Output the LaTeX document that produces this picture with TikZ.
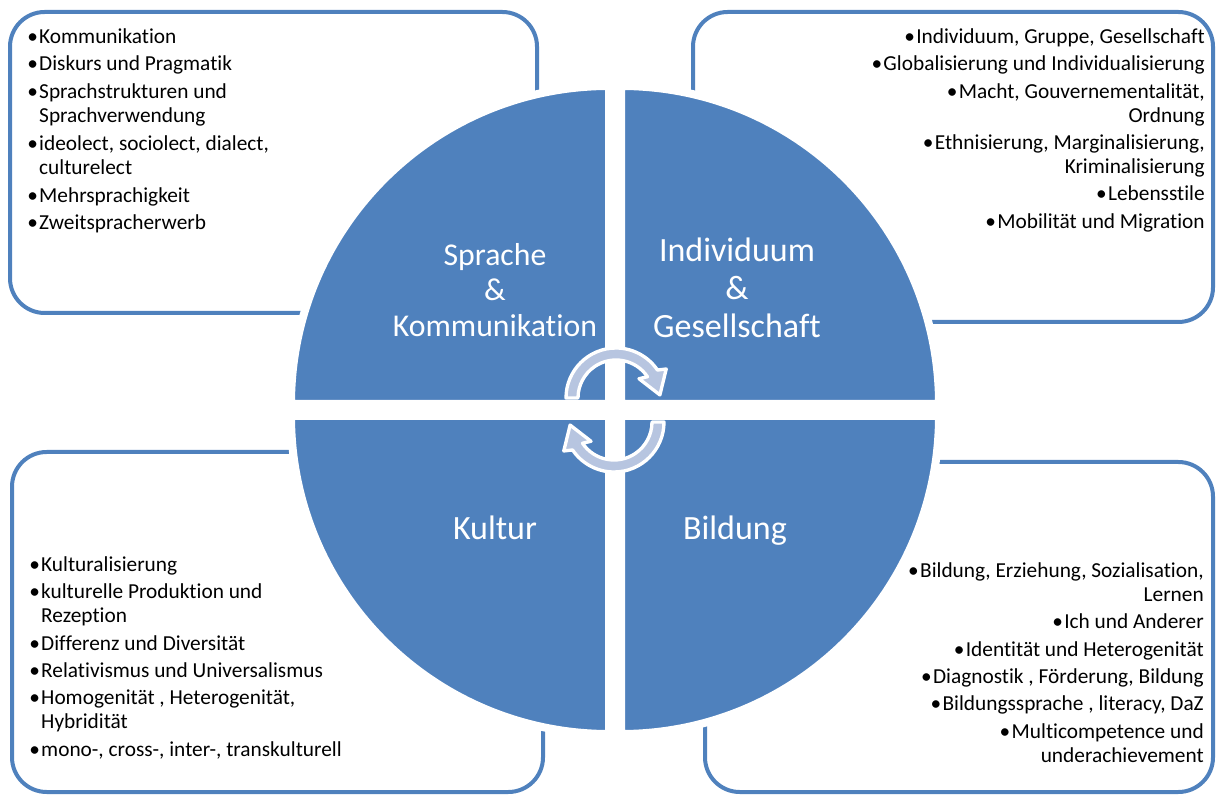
\documentclass[tikz,border=0pt]{standalone}
\usepackage{fontspec}
\setmainfont{Carlito}[Ligatures=NoCommon]
\definecolor{quadblue}{HTML}{4F81BD}
\definecolor{arrowfill}{HTML}{B7C5E0}
\newcommand{\bul}{\textbullet\kern1pt}
\newcommand{\indentbul}{\hphantom{\bul}}
\tikzset{
  listbox/.style={draw=quadblue, line width=3pt, rounded corners=26pt},
  quadrant/.style={fill=quadblue, draw=white, line width=6pt},
  topic/.style={text=white, align=center, inner sep=0pt},
  items/.style={inner sep=0pt, font=\fontsize{16}{18}\selectfont},
  cyclearrow/.style={fill=arrowfill, draw=white, line width=2.5pt, line join=round},
}
\begin{document}
\begin{tikzpicture}[x=0.75pt,y=0.75pt]
\useasboundingbox (0,0) rectangle (1217,796);
% the four boxes behind the circle
\draw[listbox] (10,483) rectangle (537,784);
\draw[listbox] (693,474) rectangle (1213,784);
\draw[listbox] (12,4) rectangle (543,344);
\draw[listbox] (705,4) rectangle (1213,334);
% the four quarters
\draw[quadrant] (609,392) -- ++(-318,0) arc[start angle=180, end angle=90, radius=318] -- cycle;
\draw[quadrant] (621,392) -- ++(0,318) arc[start angle=90, end angle=0, radius=318] -- cycle;
\draw[quadrant] (621,380) -- ++(318,0) arc[start angle=0, end angle=-90, radius=318] -- cycle;
\draw[quadrant] (609,380) -- ++(0,-318) arc[start angle=270, end angle=180, radius=318] -- cycle;
% circular arrows
\begin{scope}[shift={(616,398)}]
  \draw[cyclearrow] (180:50) arc[start angle=180, end angle=34, radius=50] -- (30:58) -- (4:44)
    -- (40:30) -- (34:38) arc[start angle=34, end angle=180, radius=38] -- cycle;
\end{scope}
\begin{scope}[rotate around={180:(615,386)}, shift={(616,398)}]
  \draw[cyclearrow] (180:50) arc[start angle=180, end angle=34, radius=50] -- (30:58) -- (4:44)
    -- (40:30) -- (34:38) arc[start angle=34, end angle=180, radius=38] -- cycle;
\end{scope}
% topics
\node[topic, font=\fontsize{23.8}{26.6}\selectfont] (sprache) at (495,506) {Sprache\\\&\\Kommunikation};
\node[topic, font=\fontsize{25.5}{28.5}\selectfont] (individuum) at (737,508) {Individuum\\\&\\Gesellschaft};
\node[topic, font=\fontsize{25.5}{28.5}\selectfont, anchor=base] (kultur) at (495,256) {Kultur};
\node[topic, font=\fontsize{25.5}{28.5}\selectfont, anchor=base] (bildung) at (735,256) {Bildung};
% lists
\node[items, anchor=north west, align=left] (sprachlist) at (27,768) {%
  \bul Kommunikation\\[2.8pt]
  \bul Diskurs und Pragmatik\\[2.8pt]
  \bul Sprachstrukturen und\\\indentbul Sprachverwendung\\[2.8pt]
  \bul ideolect, sociolect, dialect,\\\indentbul culturelect\\[2.8pt]
  \bul Mehrsprachigkeit\\[2.8pt]
  \bul Zweitspracherwerb};
\node[items, anchor=north east, align=right] (gesellschaftlist) at (1205,768) {%
  \bul Individuum, Gruppe, Gesellschaft\\[2.6pt]
  \bul Globalisierung und Individualisierung\\[2.6pt]
  \bul Macht, Gouvernementalität,\\Ordnung\\[2.6pt]
  \bul Ethnisierung, Marginalisierung,\\Kriminalisierung\\[2.6pt]
  \bul Lebensstile\\[2.6pt]
  \bul Mobilität und Migration};
\node[items, anchor=north west, align=left] (kulturlist) at (29,240) {%
  \bul Kulturalisierung\\[2.6pt]
  \bul kulturelle Produktion und\\\indentbul Rezeption\\[2.6pt]
  \bul Differenz und Diversität\\[2.6pt]
  \bul Relativismus und Universalismus\\[2.6pt]
  \bul Homogenität , Heterogenität,\\\indentbul Hybridität\\[2.6pt]
  \bul mono-, cross-, inter-, transkulturell};
\node[items, anchor=north east, align=right] (bildunglist) at (1204,234) {%
  \bul Bildung, Erziehung, Sozialisation,\\Lernen\\[2.6pt]
  \bul Ich und Anderer\\[2.6pt]
  \bul Identität und Heterogenität\\[2.6pt]
  \bul Diagnostik , Förderung, Bildung\\[2.6pt]
  \bul Bildungssprache , literacy, DaZ\\[2.6pt]
  \bul Multicompetence und\\underachievement};
\end{tikzpicture}
\end{document}
